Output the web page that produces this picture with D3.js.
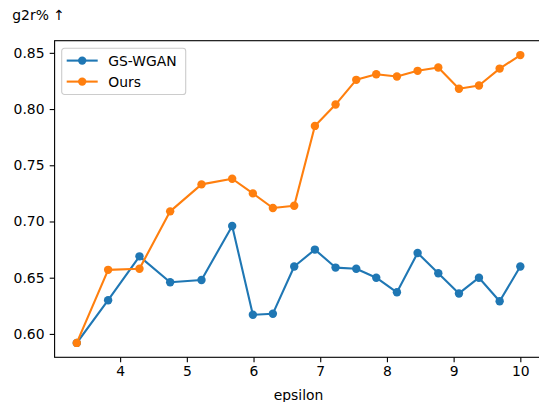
<!DOCTYPE html>
<html>
<head>
<meta charset="utf-8">
<script src="https://cdn.jsdelivr.net/npm/d3@7"></script>
<style>
  html, body { margin: 0; padding: 0; background: #fff; }
  svg { display: block; }
  text { font-family: "DejaVu Sans", sans-serif; fill: #000; }
</style>
</head>
<body>
<script>
// Privacy budget (epsilon) on the x axis
const epsilon = [3.35, 3.82, 4.29, 4.75, 5.22, 5.68, 5.99, 6.29, 6.61, 6.92,
                 7.23, 7.54, 7.84, 8.15, 8.46, 8.77, 9.08, 9.38, 9.69, 10.0];
// g2r% for each method
const gswgan = [0.592, 0.630, 0.669, 0.646, 0.648, 0.696, 0.617, 0.618, 0.660, 0.675,
                0.659, 0.658, 0.650, 0.637, 0.672, 0.654, 0.636, 0.650, 0.629, 0.660];
const ours   = [0.592, 0.657, 0.658, 0.709, 0.733, 0.738, 0.725, 0.712, 0.714, 0.785,
                0.804, 0.826, 0.831, 0.829, 0.834, 0.837, 0.818, 0.821, 0.836, 0.848];
const xTicks = [4, 5, 6, 7, 8, 9, 10];
const yTicks = [0.60, 0.65, 0.70, 0.75, 0.80, 0.85];
const seriesNames = ["GS-WGAN", "Ours"];
const seriesColors = ["#1f77b4", "#ff7f0e"];

const W = 539, H = 402;
const box = { left: 54.6, right: 542.5, top: 40.7, bottom: 357.3 };
const FS = 13.9;

const svg = d3.select("body").append("svg")
  .attr("width", W).attr("height", H);

// 5% padding around the data range on both axes
function padded(values) {
  const [lo, hi] = d3.extent(values);
  const m = (hi - lo) * 0.05;
  return [lo - m, hi + m];
}
const x = d3.scaleLinear().domain(padded(epsilon)).range([box.left, box.right]);
const y = d3.scaleLinear().domain(padded(gswgan.concat(ours))).range([box.bottom, box.top]);

// axes with outward ticks
const xAxis = d3.axisBottom(x).tickValues(xTicks).tickFormat(d3.format("d"))
  .tickSize(4.9).tickPadding(4.2);
const yAxis = d3.axisLeft(y).tickValues(yTicks).tickFormat(d3.format(".2f"))
  .tickSize(4.9).tickPadding(5.2);

const gx = svg.append("g").attr("transform", `translate(0,${box.bottom})`).call(xAxis);
const gy = svg.append("g").attr("transform", `translate(${box.left},0)`).call(yAxis);
[gx, gy].forEach(g => {
  g.select(".domain").remove();
  g.selectAll(".tick line").attr("stroke", "#000").attr("stroke-width", 1.1);
  g.selectAll(".tick text").style("font-size", FS + "px").attr("fill", "#000")
    .style("font-family", "'DejaVu Sans', sans-serif");
});

// spines
const spine = svg.append("g").attr("fill", "none").attr("stroke", "#000").attr("stroke-width", 1.1);
spine.append("rect")
  .attr("x", box.left).attr("y", box.top)
  .attr("width", box.right - box.left).attr("height", box.bottom - box.top);

// series
const series = [gswgan, ours];
const line = d3.line().x((d, i) => x(epsilon[i])).y(d => y(d));
series.forEach((vals, k) => {
  const g = svg.append("g");
  g.append("path").datum(vals)
    .attr("d", line)
    .attr("fill", "none")
    .attr("stroke", seriesColors[k])
    .attr("stroke-width", 2.1)
    .attr("stroke-linejoin", "round")
    .attr("stroke-linecap", "square");
  g.selectAll("circle").data(vals).join("circle")
    .attr("cx", (d, i) => x(epsilon[i]))
    .attr("cy", d => y(d))
    .attr("r", 4.2)
    .attr("fill", seriesColors[k]);
});

// axis titles
svg.append("text")
  .attr("x", (box.left + box.right) / 2).attr("y", 399.5)
  .attr("text-anchor", "middle").style("font-size", FS + "px")
  .text("epsilon");
svg.append("text")
  .attr("x", 12.3).attr("y", 19.8)
  .style("font-size", FS + "px")
  .text("g2r% \u2191");

// legend
const leg = svg.append("g").attr("transform", "translate(61.7,48.3)");
leg.append("rect")
  .attr("width", 124).attr("height", 46.2).attr("rx", 2.8)
  .attr("fill", "#fff").attr("fill-opacity", 0.8)
  .attr("stroke", "#cccccc").attr("stroke-width", 1.1);
seriesNames.forEach((name, k) => {
  const row = leg.append("g").attr("transform", `translate(0,${12.3 + k * 21})`);
  row.append("line").attr("x1", 5).attr("x2", 36)
    .attr("stroke", seriesColors[k]).attr("stroke-width", 2.1);
  row.append("circle").attr("cx", 20.5).attr("r", 4.2).attr("fill", seriesColors[k]);
  row.append("text").attr("x", 46.6).attr("y", 5.1)
    .style("font-size", FS + "px").text(name);
});
</script>
</body>
</html>
